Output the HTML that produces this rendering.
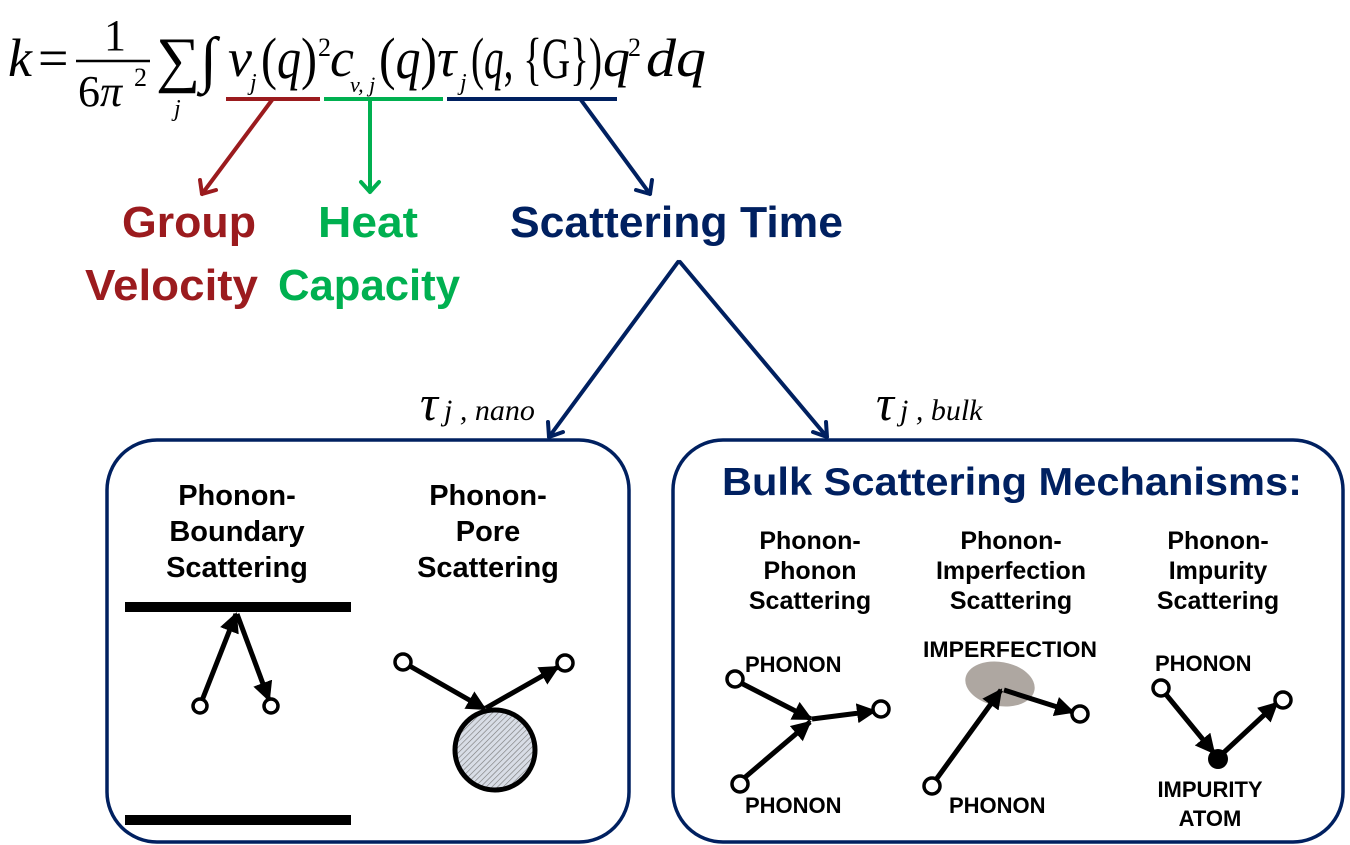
<!DOCTYPE html>
<html><head><meta charset="utf-8"><style>
html,body{margin:0;padding:0;background:#fff;}
svg{display:block;}
.s{font-family:"Liberation Serif",serif;}
.b{font-family:"Liberation Sans",sans-serif;font-weight:bold;}
</style></head><body>
<svg width="1350" height="845" viewBox="0 0 1350 845" xmlns="http://www.w3.org/2000/svg">
<defs>
<marker id="ah" viewBox="0 0 10 10" refX="9" refY="5" markerWidth="4" markerHeight="4" orient="auto"><path d="M0,0 L10,5 L0,10 z" fill="#000"/></marker>
<pattern id="hatch" width="4" height="4" patternUnits="userSpaceOnUse" patternTransform="rotate(45)"><rect width="4" height="4" fill="#d8dde6"/><line x1="0" y1="0" x2="0" y2="4" stroke="#777" stroke-width="1.2"/></pattern>
</defs>
<!-- equation -->
<g class="s" font-size="54" fill="#000">
<text x="8" y="76" font-style="italic">k</text>
<text x="38" y="76">=</text>
<text x="104" y="50" font-size="44">1</text>
<line x1="76" y1="61" x2="150" y2="61" stroke="#000" stroke-width="2.5"/>
<text x="78" y="106" font-size="44">6<tspan font-style="italic">π</tspan></text>
<text x="134" y="86" font-size="26">2</text>
<text x="156" y="80" font-size="62">∑</text>
<text x="174" y="116" font-size="24" font-style="italic">j</text>
<text x="200" y="80" font-size="62">∫</text>
<text x="228" y="76" font-style="italic">v</text>
<text x="250" y="90" font-size="24" font-style="italic">j</text>
<text x="261" y="78" font-size="58" textLength="56" lengthAdjust="spacingAndGlyphs">(<tspan font-style="italic">q</tspan>)</text>
<text x="318" y="56" font-size="26">2</text>
<text x="330" y="76" font-style="italic">c</text>
<text x="350" y="92" font-size="22" font-style="italic">v, j</text>
<text x="379" y="78" font-size="58" textLength="58" lengthAdjust="spacingAndGlyphs">(<tspan font-style="italic">q</tspan>)</text>
<text x="437" y="76" font-style="italic">τ</text>
<text x="460" y="90" font-size="24" font-style="italic">j</text>
<text x="471" y="78" font-size="58" textLength="131" lengthAdjust="spacingAndGlyphs">(<tspan font-style="italic">q</tspan>, {G})</text>
<text x="603" y="76" font-style="italic">q</text>
<text x="628" y="56" font-size="26">2</text>
<text x="646" y="76" font-style="italic" textLength="60" lengthAdjust="spacingAndGlyphs">dq</text>
</g>
<!-- underlines -->
<line x1="226" y1="99" x2="320" y2="99" stroke="#9b1b1e" stroke-width="4"/>
<line x1="324" y1="99" x2="443" y2="99" stroke="#00b050" stroke-width="4"/>
<line x1="447" y1="99" x2="617" y2="99" stroke="#002060" stroke-width="4"/>
<g fill="none" stroke-width="4" stroke-linecap="round" stroke-linejoin="round">
<path d="M272,100 L202,194 M200,180 L202,194 L216,190" stroke="#9b1b1e"/>
<path d="M370,100 L370,192 M361,182 L370,192 L379,182" stroke="#00b050"/>
<path d="M581,100 L650,194 M636,190 L650,194 L652,180" stroke="#002060"/>
<path d="M678,262 L549,437 M548,422 L549,437 L563,432" stroke="#002060"/>
<path d="M680,262 L827,437 M813,432 L827,437 L826,422" stroke="#002060"/>
</g>
<g class="b" font-size="44">
<text x="122" y="237" fill="#9b1b1e" textLength="134" lengthAdjust="spacingAndGlyphs">Group</text>
<text x="85" y="300" fill="#9b1b1e" textLength="173" lengthAdjust="spacingAndGlyphs">Velocity</text>
<text x="318" y="237" fill="#00b050" textLength="100" lengthAdjust="spacingAndGlyphs">Heat</text>
<text x="278" y="300" fill="#00b050" textLength="182" lengthAdjust="spacingAndGlyphs">Capacity</text>
<text x="510" y="237" fill="#002060" textLength="333" lengthAdjust="spacingAndGlyphs">Scattering Time</text>
</g>
<g class="s" font-style="italic">
<text x="420" y="420" font-size="50">τ</text><text x="444" y="420" font-size="30">j , nano</text>
<text x="876" y="420" font-size="50">τ</text><text x="900" y="420" font-size="30">j , bulk</text>
</g>
<!-- boxes -->
<rect x="107" y="440" width="522" height="402" rx="50" fill="none" stroke="#002060" stroke-width="3.5"/>
<rect x="673" y="440" width="670" height="402" rx="50" fill="none" stroke="#002060" stroke-width="3.5"/>
<g class="b" font-size="29" text-anchor="middle" fill="#000">
<text x="237" y="505">Phonon-</text><text x="237" y="541">Boundary</text><text x="237" y="577">Scattering</text>
<text x="488" y="505">Phonon-</text><text x="488" y="541">Pore</text><text x="488" y="577">Scattering</text>
</g>
<text class="b" x="722" y="495" font-size="39" fill="#002060" textLength="580" lengthAdjust="spacingAndGlyphs">Bulk Scattering Mechanisms:</text>
<g class="b" font-size="25" text-anchor="middle" fill="#000">
<text x="810" y="549">Phonon-</text><text x="810" y="579">Phonon</text><text x="810" y="609">Scattering</text>
<text x="1011" y="549">Phonon-</text><text x="1011" y="579">Imperfection</text><text x="1011" y="609">Scattering</text>
<text x="1218" y="549">Phonon-</text><text x="1218" y="579">Impurity</text><text x="1218" y="609">Scattering</text>
</g>
<g class="b" font-size="22" fill="#000">
<text x="745" y="672">PHONON</text><text x="745" y="813">PHONON</text>
<text x="923" y="657" textLength="174" lengthAdjust="spacingAndGlyphs">IMPERFECTION</text><text x="949" y="813">PHONON</text>
<text x="1155" y="671">PHONON</text>
<text x="1210" y="797" text-anchor="middle">IMPURITY</text><text x="1210" y="826" text-anchor="middle">ATOM</text>
</g>
<!-- boundary -->
<rect x="125" y="602" width="226" height="10" fill="#000"/>
<rect x="125" y="815" width="226" height="10" fill="#000"/>
<ellipse cx="1000" cy="684" rx="35" ry="22" fill="#a09890" transform="rotate(10 1000 684)" opacity="0.85"/>
<g stroke="#000" stroke-width="5" fill="none" marker-end="url(#ah)">
<line x1="201" y1="703" x2="236" y2="614"/>
<line x1="237" y1="614" x2="269" y2="700"/>
<line x1="408" y1="665" x2="485" y2="709"/>
<line x1="486" y1="708" x2="558" y2="667"/>
<line x1="739" y1="682" x2="811" y2="719"/>
<line x1="743" y1="779" x2="810" y2="722"/>
<line x1="812" y1="719" x2="875" y2="711"/>
<line x1="935" y1="781" x2="1001" y2="690"/>
<line x1="1004" y1="690" x2="1073" y2="712"/>
<line x1="1164" y1="692" x2="1214" y2="753"/>
<line x1="1220" y1="756" x2="1277" y2="703"/>
</g>
<circle cx="495" cy="750" r="40" fill="url(#hatch)" stroke="#000" stroke-width="5"/>
<g fill="#fff" stroke="#000" stroke-width="3.5">
<circle cx="200" cy="706" r="7"/><circle cx="271" cy="706" r="7"/>
<circle cx="403" cy="662" r="8"/><circle cx="565" cy="663" r="8"/>
<circle cx="735" cy="679" r="8"/><circle cx="740" cy="784" r="8"/><circle cx="881" cy="709" r="8"/>
<circle cx="932" cy="786" r="8"/><circle cx="1080" cy="714" r="8"/>
<circle cx="1161" cy="688" r="8"/><circle cx="1283" cy="700" r="8"/>
</g>
<circle cx="1218" cy="759" r="10" fill="#000"/>
</svg>
</body></html>
